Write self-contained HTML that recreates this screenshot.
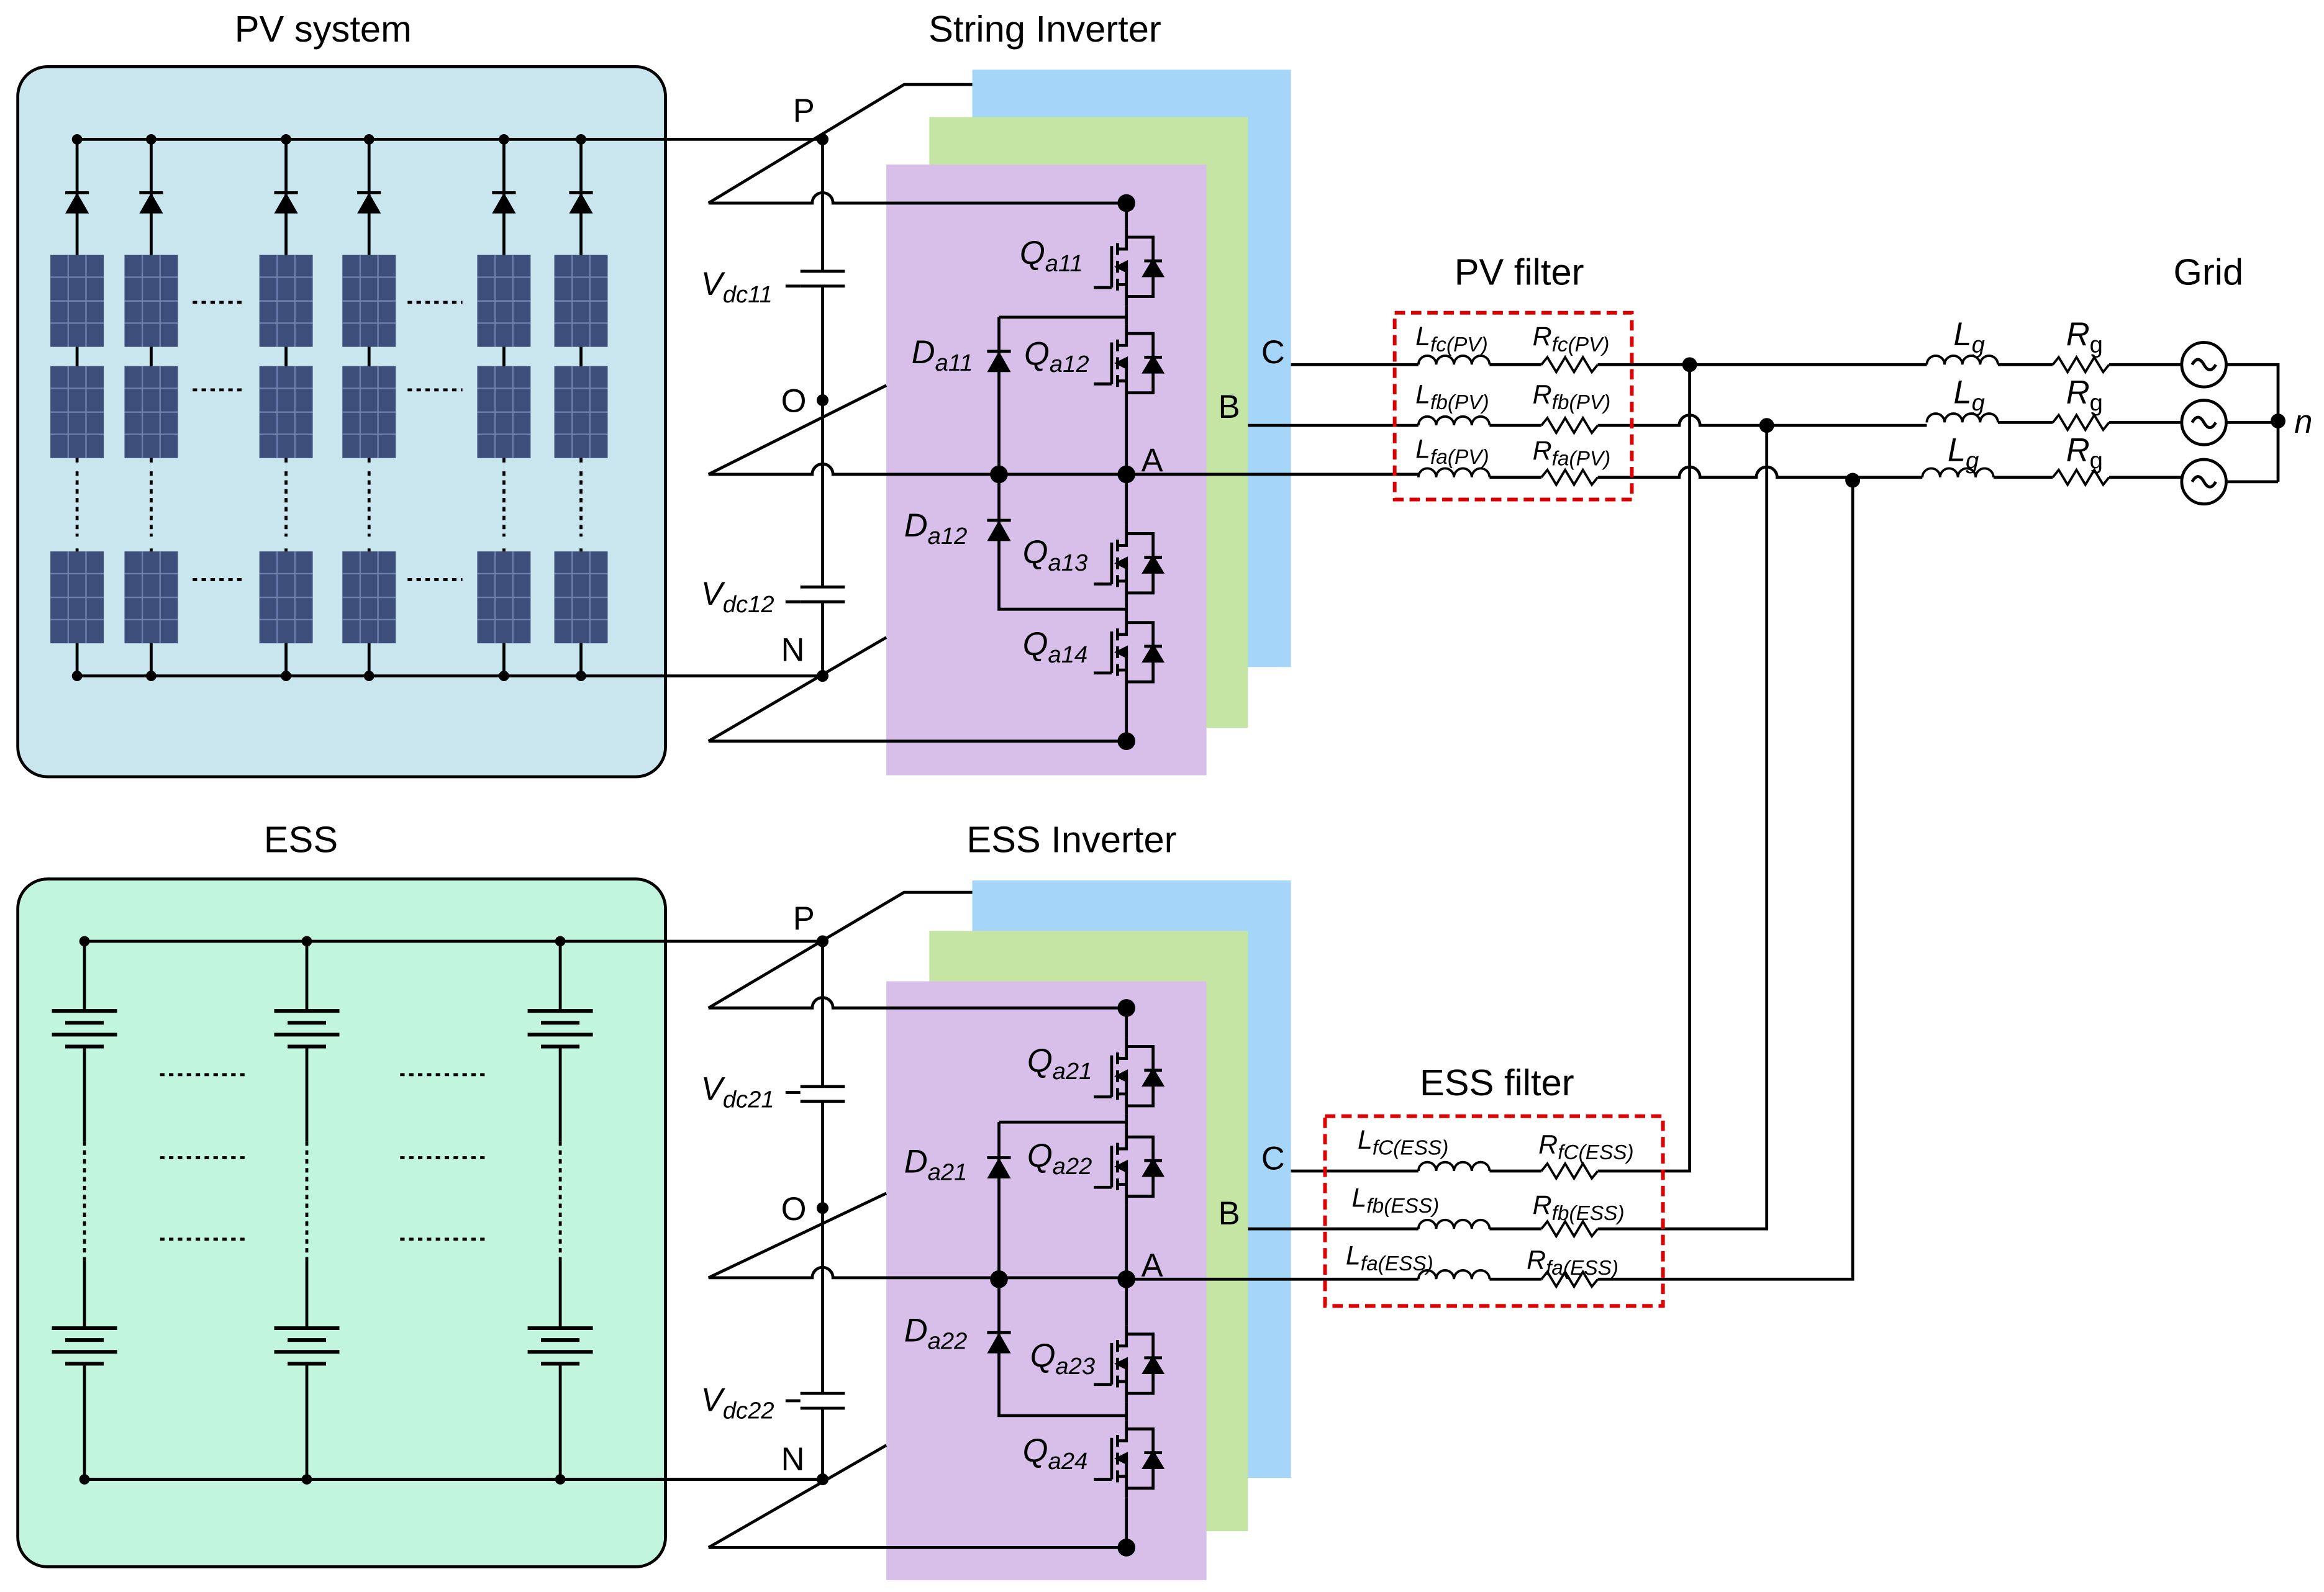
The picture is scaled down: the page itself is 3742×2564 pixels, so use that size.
<!DOCTYPE html>
<html><head><meta charset="utf-8"><style>
html,body{margin:0;padding:0;background:#fff}
svg{display:block}
text{font-family:"Liberation Sans",Arial,sans-serif}
</style></head><body>
<svg width="3742" height="2564" viewBox="0 0 1568 1074" preserveAspectRatio="none" xmlns="http://www.w3.org/2000/svg">
<defs>
<g id="q" stroke="#000" stroke-width="2" fill="none">
  <path d="M0,-26 V-12 H-6 M-6,-16 V-8 M-6,-4 V4 M-6,8 V16 M-6,12 H0 V26 M-6,0 H0 V12"/>
  <path d="M-10,-14 V14 M-10,14 H-22"/>
  <path d="M0,-20 H18 V20 H0"/>
  <path d="M12,6 L24,6 L18,-4 Z" fill="#000"/>
  <path d="M12,-4 H24"/>
  <path d="M-6,0 L0,-3 L0,3 Z" fill="#000"/>
</g>
<g id="dio"><path d="M-8,8 L8,8 L0,-6 Z" fill="#000"/><path d="M-8,-6 H8" stroke="#000" stroke-width="2"/></g>
<g id="ind" fill="none" stroke="#000" stroke-width="1.6"><path d="M0,0 a6,6 0 0 1 12,0 a6,6 0 0 1 12,0 a6,6 0 0 1 12,0 a6,6 0 0 1 12,0"/></g>
<g id="res" fill="none" stroke="#000" stroke-width="1.6"><path d="M0,0 L4,-5 L10,5 L16,-5 L22,5 L28,-5 L34,5 L38,0"/></g>
<g id="bat" stroke="#000" stroke-width="2.5"><path d="M-22,0 H22 M-13,8 H13 M-22,16 H22 M-13,24 H13"/></g>
<g id="pan"><rect x="0" y="0" width="36" height="62" fill="#3d4e7a"/><path d="M0,15 H36 M0,31 H36 M0,46 H36 M12,0 V62 M24,0 V62" stroke="#6c7fae" stroke-width="1"/></g>
<g id="src"><circle r="15" fill="#fff" stroke="#000" stroke-width="2"/><path d="M-8,0 q4,-7 8,0 t8,0" fill="none" stroke="#000" stroke-width="2"/></g>
<g id="prow"><use href="#pan" x="34" y="0"/><use href="#pan" x="84" y="0"/><use href="#pan" x="175" y="0"/><use href="#pan" x="231" y="0"/><use href="#pan" x="322" y="0"/><use href="#pan" x="374" y="0"/></g>
</defs>

<g font-size="25" text-anchor="middle">
<text x="218" y="28">PV system</text>
<text x="705" y="28">String Inverter</text>
<text x="203" y="575">ESS</text>
<text x="723" y="575">ESS Inverter</text>
<text x="1025" y="192">PV filter</text>
<text x="1490" y="192">Grid</text>
<text x="1010" y="739">ESS filter</text>
</g>

<rect x="12" y="45" width="437" height="479" rx="20" fill="#c9e6ee" stroke="#000" stroke-width="2"/>
<g stroke="#000" stroke-width="2" fill="none">
<path d="M52,94 H555 M52,456 H555"/>
<path d="M52,94 V456 M102,94 V456 M193,94 V456 M249,94 V456 M340,94 V456 M392,94 V456"/>
</g>
<g>
<use href="#dio" x="52" y="136"/><use href="#dio" x="102" y="136"/><use href="#dio" x="193" y="136"/><use href="#dio" x="249" y="136"/><use href="#dio" x="340" y="136"/><use href="#dio" x="392" y="136"/>
</g>
<use href="#prow" y="172"/><use href="#prow" y="247"/><use href="#prow" y="372"/>
<rect x="30" y="312" width="390" height="58" fill="#c9e6ee"/>
<g stroke="#000" stroke-width="2" stroke-dasharray="3,3">
<path d="M52,318 V362 M102,318 V362 M193,318 V362 M249,318 V362 M340,318 V362 M392,318 V362"/>
<path d="M130,204 H166 M275,204 H312 M130,263 H166 M275,263 H312 M130,391 H166 M275,391 H312"/>
</g>
<g fill="#000"><circle cx="52" cy="94" r="3.5"/><circle cx="102" cy="94" r="3.5"/><circle cx="193" cy="94" r="3.5"/><circle cx="249" cy="94" r="3.5"/><circle cx="340" cy="94" r="3.5"/><circle cx="392" cy="94" r="3.5"/>
<circle cx="52" cy="456" r="3.5"/><circle cx="102" cy="456" r="3.5"/><circle cx="193" cy="456" r="3.5"/><circle cx="249" cy="456" r="3.5"/><circle cx="340" cy="456" r="3.5"/><circle cx="392" cy="456" r="3.5"/></g>

<rect x="12" y="593" width="437" height="464" rx="20" fill="#c2f5de" stroke="#000" stroke-width="2"/>
<g stroke="#000" stroke-width="2" fill="none">
<path d="M57,635 H555 M57,998 H555"/>
<path d="M57,635 V682 M57,706 V770 M57,850 V896 M57,920 V998"/>
<path d="M207,635 V682 M207,706 V770 M207,850 V896 M207,920 V998"/>
<path d="M378,635 V682 M378,706 V770 M378,850 V896 M378,920 V998"/>
</g>
<g stroke="#000" stroke-width="2" stroke-dasharray="3,3"><path d="M57,770 V850 M207,770 V850 M378,770 V850"/>
<path d="M108,725 H168 M270,725 H330 M108,781 H168 M270,781 H330 M108,836 H168 M270,836 H330"/></g>
<use href="#bat" x="57" y="682"/><use href="#bat" x="207" y="682"/><use href="#bat" x="378" y="682"/>
<use href="#bat" x="57" y="896"/><use href="#bat" x="207" y="896"/><use href="#bat" x="378" y="896"/>
<g fill="#000"><circle cx="57" cy="635" r="3.5"/><circle cx="207" cy="635" r="3.5"/><circle cx="378" cy="635" r="3.5"/><circle cx="57" cy="998" r="3.5"/><circle cx="207" cy="998" r="3.5"/><circle cx="378" cy="998" r="3.5"/></g>

<rect x="656" y="47" width="215" height="403" fill="#a5d5f8"/>
<rect x="627" y="79" width="215" height="412" fill="#c5e5a5"/>
<rect x="598" y="111" width="216" height="412" fill="#d8bfea"/>
<rect x="656" y="594" width="215" height="403" fill="#a5d5f8"/>
<rect x="627" y="628" width="215" height="405" fill="#c5e5a5"/>
<rect x="598" y="662" width="216" height="404" fill="#d8bfea"/>

<g stroke="#000" stroke-width="2" fill="none">
<path d="M478,137 L610,57 H656"/>
<path d="M478,320 L598,260"/>
<path d="M478,500 L598,430"/>
<path d="M555,94 V183 M555,193 V396 M555,406 V456"/>
<path d="M540,183 H570 M540,193 H570 M540,396 H570 M540,406 H570"/>
<path d="M530,193 H540 M530,406 H540"/>
<path d="M478,137 H548 a7,7 0 0 1 14,0 H760"/>
<path d="M478,320 H548 a7,7 0 0 1 14,0 H760"/>
<path d="M478,500 H760"/>
<path d="M760,137 V154 M760,206 V219 M760,271 V354 M760,406 V414 M760,466 V500"/>
<path d="M674,214 H760 M674,214 V411 H760"/>
<path d="M760,320 H957 M842,287 H957 M871,246 H957"/>
</g>
<use href="#q" x="760" y="180"/><use href="#q" x="760" y="245"/><use href="#q" x="760" y="380"/><use href="#q" x="760" y="440"/>
<use href="#dio" x="674" y="243"/><use href="#dio" x="674" y="357"/>
<g fill="#000"><circle cx="555" cy="94" r="4"/><circle cx="555" cy="270" r="4"/><circle cx="555" cy="456" r="4"/><circle cx="760" cy="137" r="6"/><circle cx="760" cy="320" r="6"/><circle cx="760" cy="500" r="6"/><circle cx="674" cy="320" r="6"/></g>

<g stroke="#000" stroke-width="2" fill="none">
<path d="M478,680 L610,602 H656"/>
<path d="M478,862 L598,805"/>
<path d="M478,1044 L598,975"/>
<path d="M555,635 V733 M555,743 V940 M555,950 V998"/>
<path d="M540,733 H570 M540,743 H570 M540,940 H570 M540,950 H570"/>
<path d="M530,737 H540 M530,945 H540"/>
<path d="M478,680 H548 a7,7 0 0 1 14,0 H760"/>
<path d="M478,862 H548 a7,7 0 0 1 14,0 H760"/>
<path d="M478,1044 H760"/>
<path d="M760,680 V700 M760,752 V761 M760,813 V894 M760,946 V958 M760,1010 V1044"/>
<path d="M674,757 H760 M674,757 V955 H760"/>
<path d="M760,863 H957 M1005,863 H1040 M1078,863 H1250 V324"/>
<path d="M842,829 H957 M1005,829 H1040 M1078,829 H1192 V287"/>
<path d="M871,790 H957 M1005,790 H1040 M1078,790 H1140 V246"/>
</g>
<use href="#q" x="760" y="726"/><use href="#q" x="760" y="787"/><use href="#q" x="760" y="920"/><use href="#q" x="760" y="984"/>
<use href="#dio" x="674" y="787"/><use href="#dio" x="674" y="905"/>
<g fill="#000"><circle cx="555" cy="635" r="4"/><circle cx="555" cy="815" r="4"/><circle cx="555" cy="998" r="4"/><circle cx="760" cy="680" r="6"/><circle cx="760" cy="863" r="6"/><circle cx="760" cy="1044" r="6"/><circle cx="674" cy="863" r="6"/></g>

<g stroke="#000" stroke-width="2" fill="none">
<path d="M1005,246 H1040 M1078,246 H1300 M1348,246 H1385 M1423,246 H1472 M1502,246 H1537 V325"/>
<path d="M1005,287 H1040 M1078,287 H1133 a7,7 0 0 1 14,0 H1300 M1348,285 H1385 M1423,285 H1472 M1502,285 H1537"/>
<path d="M1005,322 H1040 M1078,322 H1133 a7,7 0 0 1 14,0 H1185 a7,7 0 0 1 14,0 H1297 M1345,322 H1385 M1423,322 H1472 M1502,325 H1537"/>
</g>
<use href="#ind" x="957" y="246"/><use href="#ind" x="957" y="287"/><use href="#ind" x="957" y="322"/>
<use href="#res" x="1040" y="246"/><use href="#res" x="1040" y="287"/><use href="#res" x="1040" y="322"/>
<use href="#ind" x="1300" y="246"/><use href="#ind" x="1300" y="285"/><use href="#ind" x="1297" y="322"/>
<use href="#res" x="1385" y="246"/><use href="#res" x="1385" y="285"/><use href="#res" x="1385" y="322"/>
<use href="#src" x="1487" y="246"/><use href="#src" x="1487" y="285"/><use href="#src" x="1487" y="325"/>
<g fill="#000"><circle cx="1140" cy="246" r="5"/><circle cx="1192" cy="287" r="5"/><circle cx="1250" cy="324" r="5"/><circle cx="1537" cy="284" r="5"/></g>

<use href="#ind" x="957" y="790"/><use href="#ind" x="957" y="829"/><use href="#ind" x="957" y="863"/>
<use href="#res" x="1040" y="790"/><use href="#res" x="1040" y="829"/><use href="#res" x="1040" y="863"/>

<rect x="941" y="211" width="160" height="126" fill="none" stroke="#d00" stroke-width="2.5" stroke-dasharray="7,4"/>
<rect x="894" y="753" width="228" height="128" fill="none" stroke="#d00" stroke-width="2.5" stroke-dasharray="7,4"/>

<g font-size="22">
<text x="535" y="82">P</text><text x="527" y="278">O</text><text x="527" y="446">N</text>
<text x="535" y="627">P</text><text x="527" y="823">O</text><text x="527" y="992">N</text>
<text x="851" y="245">C</text><text x="822" y="282">B</text><text x="770" y="318">A</text>
<text x="851" y="789">C</text><text x="822" y="826">B</text><text x="770" y="861">A</text>
<text x="473" y="199" font-style="italic">V<tspan font-size="16" dy="5">dc11</tspan></text>
<text x="473" y="408" font-style="italic">V<tspan font-size="16" dy="5">dc12</tspan></text>
<text x="473" y="742" font-style="italic">V<tspan font-size="16" dy="5">dc21</tspan></text>
<text x="473" y="952" font-style="italic">V<tspan font-size="16" dy="5">dc22</tspan></text>
<text x="688" y="178" font-style="italic">Q<tspan font-size="16" dy="5">a11</tspan></text>
<text x="691" y="246" font-style="italic">Q<tspan font-size="16" dy="5">a12</tspan></text>
<text x="690" y="380" font-style="italic">Q<tspan font-size="16" dy="5">a13</tspan></text>
<text x="690" y="442" font-style="italic">Q<tspan font-size="16" dy="5">a14</tspan></text>
<text x="615" y="245" font-style="italic">D<tspan font-size="16" dy="5">a11</tspan></text>
<text x="610" y="362" font-style="italic">D<tspan font-size="16" dy="5">a12</tspan></text>
<text x="693" y="723" font-style="italic">Q<tspan font-size="16" dy="5">a21</tspan></text>
<text x="693" y="787" font-style="italic">Q<tspan font-size="16" dy="5">a22</tspan></text>
<text x="695" y="922" font-style="italic">Q<tspan font-size="16" dy="5">a23</tspan></text>
<text x="690" y="986" font-style="italic">Q<tspan font-size="16" dy="5">a24</tspan></text>
<text x="610" y="791" font-style="italic">D<tspan font-size="16" dy="5">a21</tspan></text>
<text x="610" y="905" font-style="italic">D<tspan font-size="16" dy="5">a22</tspan></text>
<text x="1318" y="233" font-style="italic">L<tspan font-size="16" dy="5">g</tspan></text>
<text x="1318" y="272" font-style="italic">L<tspan font-size="16" dy="5">g</tspan></text>
<text x="1314" y="311" font-style="italic">L<tspan font-size="16" dy="5">g</tspan></text>
<text x="1394" y="233" font-style="italic">R<tspan font-size="16" dy="5" font-style="normal">g</tspan></text>
<text x="1394" y="272" font-style="italic">R<tspan font-size="16" dy="5" font-style="normal">g</tspan></text>
<text x="1394" y="311" font-style="italic">R<tspan font-size="16" dy="5" font-style="normal">g</tspan></text>
<text x="1548" y="292" font-style="italic" font-family="Liberation Serif">n</text>
</g>
<g font-size="18" font-style="italic">
<text x="955" y="233">L<tspan font-size="14" dy="4">fc(PV)</tspan></text>
<text x="955" y="272">L<tspan font-size="14" dy="4">fb(PV)</tspan></text>
<text x="955" y="309">L<tspan font-size="14" dy="4">fa(PV)</tspan></text>
<text x="1034" y="233">R<tspan font-size="14" dy="4">fc(PV)</tspan></text>
<text x="1034" y="272">R<tspan font-size="14" dy="4">fb(PV)</tspan></text>
<text x="1034" y="310">R<tspan font-size="14" dy="4">fa(PV)</tspan></text>
<text x="916" y="775">L<tspan font-size="14" dy="4">fC(ESS)</tspan></text>
<text x="912" y="814">L<tspan font-size="14" dy="4">fb(ESS)</tspan></text>
<text x="908" y="853">L<tspan font-size="14" dy="4">fa(ESS)</tspan></text>
<text x="1038" y="778">R<tspan font-size="14" dy="4">fC(ESS)</tspan></text>
<text x="1034" y="819">R<tspan font-size="14" dy="4">fb(ESS)</tspan></text>
<text x="1030" y="856">R<tspan font-size="14" dy="4">fa(ESS)</tspan></text>
</g>
</svg>
</body></html>
